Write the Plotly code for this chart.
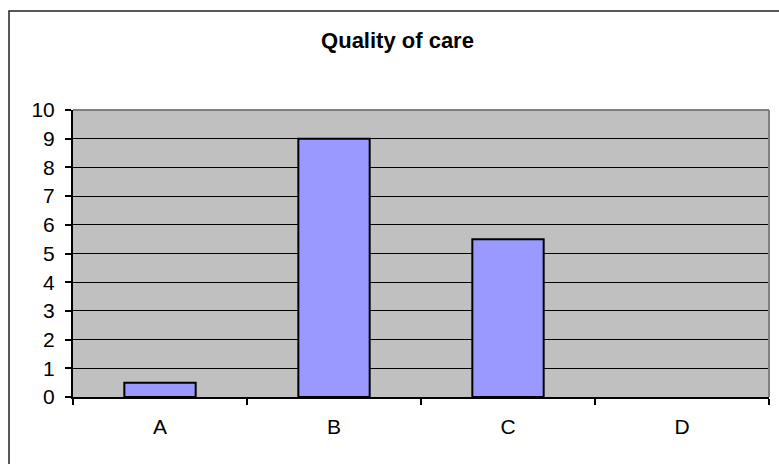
import plotly.graph_objects as go

# Survey results: score per category
categories = ["A", "B", "C", "D"]
scores = [0.5, 9, 5.5, 0]
y_ticks = list(range(0, 11))

W, H = 779, 464
L, R, T, B = 73, 10, 110, 67
pw, ph = W - L - R, H - T - B


def px_x(x):
    return (x - L) / pw


def px_y(y):
    return (H - B - y) / ph


FONT = "Liberation Sans, Arial, sans-serif"
TICK_SIZE = 21

fig = go.Figure(
    go.Bar(
        x=categories,
        y=scores,
        width=0.41,
        marker=dict(
            color="#9999FF",
            # empty bars get no outline so nothing shows at zero
            line=dict(color="black", width=[2 if v else 0 for v in scores]),
        ),
        hoverinfo="x+y",
    )
)

fig.update_layout(
    width=W,
    height=H,
    margin=dict(l=L, r=R, t=T, b=B, pad=0),
    paper_bgcolor="white",
    plot_bgcolor="#C0C0C0",
    showlegend=False,
    font=dict(family=FONT, size=TICK_SIZE, color="black"),
    title=dict(
        text="<b>Quality of care</b>",
        font=dict(family=FONT, size=22, color="black"),
        x=px_x(397.5),
        xref="paper",
        xanchor="center",
        y=1 - 40 / H,
        yref="container",
        yanchor="middle",
    ),
    bargap=0.59,
)

fig.update_xaxes(
    type="category",
    categoryorder="array",
    categoryarray=categories,
    range=[-0.5, len(categories) - 0.5],
    showline=True,
    linecolor="black",
    linewidth=2,
    ticks="outside",
    tickson="boundaries",
    ticklen=6,
    tickwidth=1.5,
    tickcolor="black",
    showgrid=False,
    ticklabelstandoff=10,
    tickfont=dict(family=FONT, size=TICK_SIZE, color="black"),
)

fig.update_yaxes(
    range=[0, 10],
    tickmode="array",
    tickvals=y_ticks,
    ticktext=[str(v) for v in y_ticks],
    showline=True,
    linecolor="black",
    linewidth=2,
    ticks="outside",
    ticklen=6,
    tickwidth=1.5,
    tickcolor="black",
    showgrid=True,
    gridcolor="black",
    gridwidth=1,
    zeroline=False,
    ticklabelstandoff=6,
    tickfont=dict(family=FONT, size=TICK_SIZE, color="black"),
)

# Plot-area frame on the top and right edges
fig.add_shape(type="line", xref="paper", yref="paper", x0=0, x1=1, y0=1, y1=1,
              line=dict(color="#808080", width=2), layer="above")
fig.add_shape(type="line", xref="paper", yref="paper", x0=1, x1=1, y0=0, y1=1,
              line=dict(color="#808080", width=2), layer="above")

# Chart-area border (extends past the right and bottom edges of the page)
fig.add_shape(type="rect", xref="paper", yref="paper",
              x0=px_x(9), x1=px_x(800), y0=px_y(480), y1=px_y(11),
              line=dict(color="#222222", width=1.5), fillcolor="rgba(0,0,0,0)",
              layer="above")

fig.write_html("out.html")
